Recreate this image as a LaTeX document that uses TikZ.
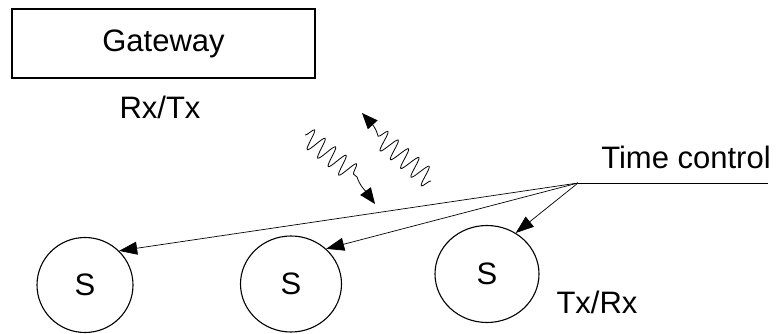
\documentclass[tikz,border=0pt]{standalone}
\usepackage{fontspec}
\setmainfont{Liberation Sans}
\usetikzlibrary{shapes.geometric,arrows.meta,decorations.pathmorphing}
\begin{document}
\begin{tikzpicture}[x=1pt,y=-1pt,
  every node/.style={font=\fontsize{31}{37}\selectfont},
  txt/.style={inner sep=0pt},
  gwbox/.style={draw,line width=1.1pt,minimum width=303pt,minimum height=69pt,inner sep=0pt},
  station/.style={draw,ellipse,line width=1.1pt,inner sep=0pt},
  ctrl/.style={line width=0.7pt,-{Triangle[length=18pt,width=13pt]}},
  radio/.style={line width=0.8pt,-{Triangle[length=16pt,width=13pt]}},
  wave/.style={decoration={snake,amplitude=10pt,segment length=13.5pt}}]
\useasboundingbox (0,0) rectangle (778,334);

% gateway and its antenna label
\node[gwbox] (gw) at (163.5,43.5) {Gateway};
\node[txt] (rxtx) at (160,107) {Rx/Tx};

% sensor stations
\node[station,minimum width=96pt,minimum height=95pt] (s1) at (85,285) {S};
\node[station,minimum width=101pt,minimum height=96pt] (s2) at (291,284) {S};
\node[station,minimum width=104pt,minimum height=97pt] (s3) at (487,274) {S};
\node[txt] (txrx) at (597,302) {Tx/Rx};

% time control bus
\node[txt] (tc) at (686,157) {Time control};
\coordinate (tc0) at (578,183);
\coordinate (tc1) at (768,183);
\draw[line width=0.7pt] (tc0) -- (tc1);
\draw[ctrl] (tc0) -- (s1.45);
\draw[ctrl] (tc0) -- (s2.45);
\draw[ctrl] (tc0) -- (s3.55);

% radio links: a wave train followed by a short tail to the tip
\coordinate (w1a) at (305,135);
\coordinate (w1m) at (357,177);
\coordinate (w1b) at (375,204);
\coordinate (w2a) at (431,181);
\coordinate (w2m) at (378,136);
\coordinate (w2b) at (362,113);
\draw[radio] (w1a) decorate[wave] {-- (w1m)} .. controls (360,186) and (364,189) .. (w1b);
\draw[radio] (w2a) decorate[wave] {-- (w2m)} .. controls (376,128) and (372,124) .. (w2b);
\end{tikzpicture}
\end{document}
